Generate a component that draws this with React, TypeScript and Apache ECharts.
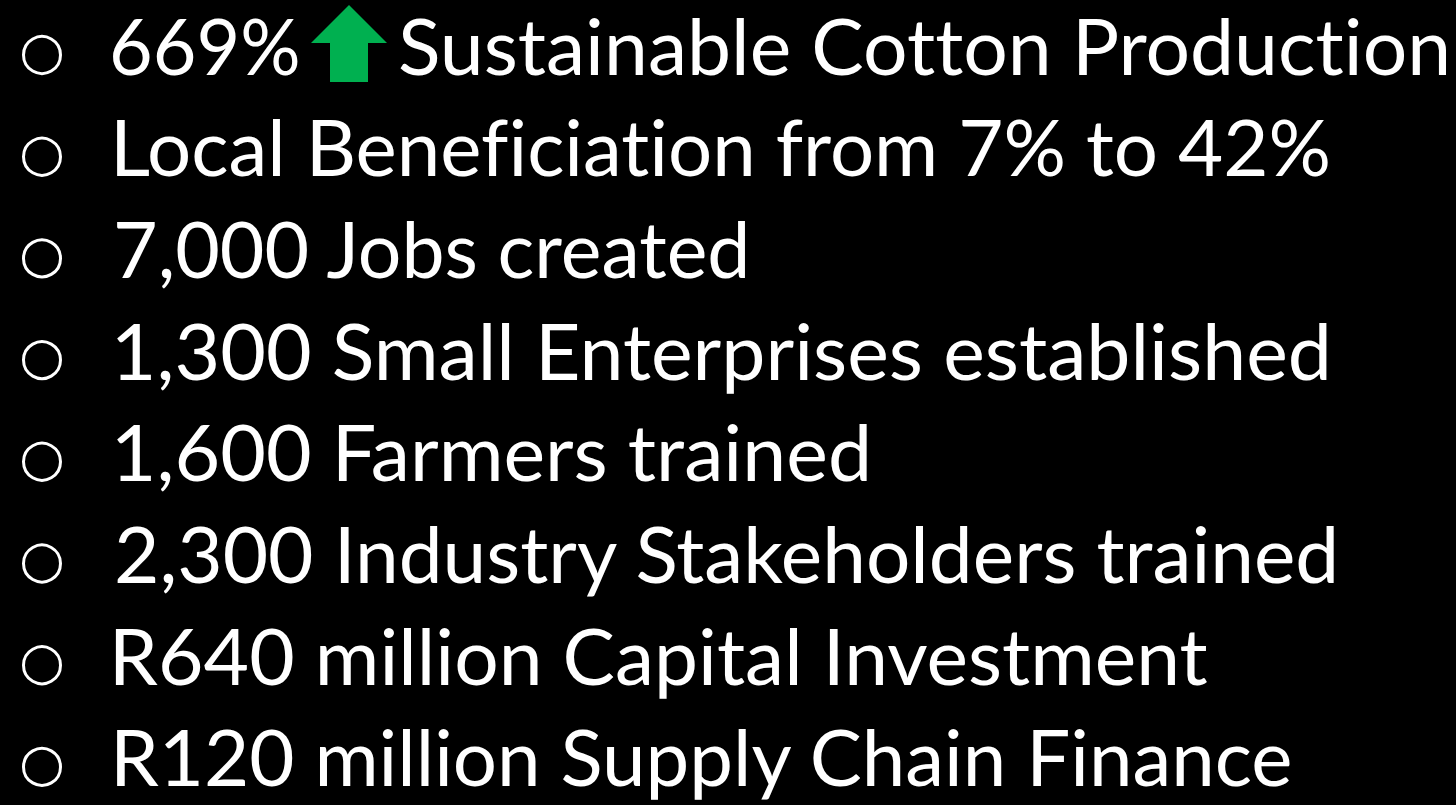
import React, { useEffect, useRef } from "react";
import * as echarts from "echarts";

// Slide content
const headlineValue = "669%";
const headlineRest = "Sustainable Cotton Production";
const bulletLines = [
  "Local Beneficiation from 7% to 42%",
  "7,000 Jobs created",
  "1,300 Small Enterprises established",
  "1,600 Farmers trained",
  "2,300 Industry Stakeholders trained",
  "R640 million Capital Investment",
  "R120 million Supply Chain Finance",
];

// Layout (ink extents)
const FONT_FAMILY = "Lato";
const FONT_SIZE = 77;
const FIRST_BASELINE = 75;
const LINE_STEP = 101.7;
const lineLefts = [117, 117, 117, 117, 117, 116, 117];
const lineRights = [1328, 748, 1327, 867, 1337, 1208, 1292];
const ARROW_GREEN = "#00B050";

function measure(text: string) {
  const c = document.createElement("canvas");
  const ctx = c.getContext("2d")!;
  ctx.font = `${FONT_SIZE}px ${FONT_FAMILY}`;
  ctx.textBaseline = "alphabetic";
  // a tiny letter spacing makes the canvas skip ligatures, like the SVG text
  try {
    (ctx as any).letterSpacing = "0.01px";
  } catch (e) {}
  const m = ctx.measureText(text);
  const asc = (m as any).fontBoundingBoxAscent ?? FONT_SIZE * 0.987;
  const desc = (m as any).fontBoundingBoxDescent ?? FONT_SIZE * 0.213;
  return {
    left: m.actualBoundingBoxLeft,
    right: m.actualBoundingBoxRight,
    central: (asc - desc) / 2,
  };
}

function fittedText(text: string, inkLeft: number, inkRight: number, baseline: number) {
  const m = measure(text);
  const inkW = m.left + m.right;
  const s = (inkRight - inkLeft) / inkW;
  return {
    type: "text",
    x: inkLeft + m.left * s,
    y: baseline - m.central,
    scaleX: s,
    style: {
      text,
      fill: "#ffffff",
      font: `${FONT_SIZE}px ${FONT_FAMILY}`,
      align: "left",
      verticalAlign: "middle",
    },
  };
}

function bullet(baseline: number) {
  return {
    type: "circle",
    shape: { cx: 42, cy: baseline - 20, r: 18.5 },
    style: { fill: "none", stroke: "#ffffff", lineWidth: 3 },
  };
}

export default function App() {
  const ref = useRef<HTMLDivElement>(null);
  useEffect(() => {
    if (!ref.current) return;
    const chart = echarts.init(ref.current, null, { renderer: "svg" });
    const elements: any[] = [];
    // Line 1
    const b0 = FIRST_BASELINE;
    elements.push(bullet(b0));
    elements.push(fittedText(headlineValue, 113, 298, b0));
    elements.push({
      type: "polygon",
      shape: {
        points: [
          [349, 5],
          [387, 43],
          [368, 43],
          [368, 82],
          [330, 82],
          [330, 43],
          [311, 43],
        ],
      },
      style: { fill: ARROW_GREEN },
    });
    elements.push(fittedText(headlineRest, 400, 1446, b0));
    bulletLines.forEach((t, i) => {
      const b = FIRST_BASELINE + LINE_STEP * (i + 1);
      elements.push(bullet(b));
      elements.push(fittedText(t, lineLefts[i], lineRights[i], b));
    });
    chart.setOption({
      animation: false,
      backgroundColor: "#000000",
      graphic: { elements },
    });
    return () => chart.dispose();
  }, []);
  return (
    <>
      <style>{`svg text { font-variant-ligatures: none !important; font-feature-settings: "liga" 0, "clig" 0, "dlig" 0, "calt" 0 !important; }`}</style>
      <div
        ref={ref}
        style={{ position: "absolute", left: 0, top: 0, width: 1456, height: 805 }}
      />
    </>
  );
}
